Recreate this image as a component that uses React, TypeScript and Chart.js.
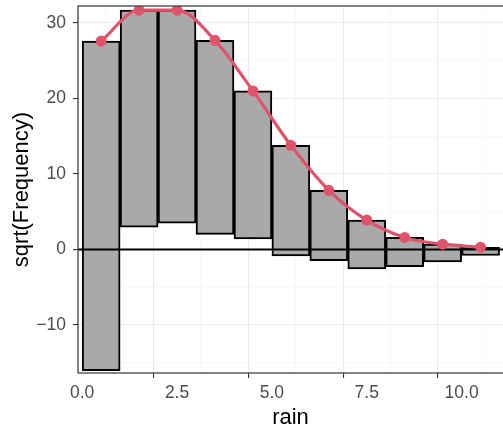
import React, { useEffect, useRef } from 'react';
import { Chart, registerables } from 'chart.js';

Chart.register(...registerables);

// ---- data ----
const binCenters = [0.5, 1.5, 2.5, 3.5, 4.5, 5.5, 6.5, 7.5, 8.5, 9.5, 10.5];
const expectedSqrt = [27.6, 31.7, 31.7, 27.7, 21.0, 13.8, 7.84, 3.9, 1.6, 0.7, 0.3];
const barBottoms = [-16.05, 2.94, 3.47, 2.0, 1.39, -0.86, -1.48, -2.58, -2.27, -1.66, -0.8];
const xMajorTicks = [0, 2.5, 5, 7.5, 10];
const xMinorTicks = [1.25, 3.75, 6.25, 8.75];
const yMajorTicks = [-10, 0, 10, 20, 30];
const yMinorTicks = [-15, -5, 5, 15, 25];
const xRange = [-0.11, 11.09];
const yRange = [-16.36, 32.25];
const xTitle = 'rain';
const yTitle = 'sqrt(Frequency)';

const FONT = "'Liberation Sans', Arial, Helvetica, sans-serif";
const isIn = (arr: number[], v: number) => arr.some((a) => Math.abs(a - v) < 1e-9);

const panelBorder = {
  id: 'panelBorder',
  afterDatasetsDraw(chart: any) {
    const { ctx, chartArea } = chart;
    ctx.save();
    ctx.strokeStyle = '#333333';
    ctx.lineWidth = 1.2;
    ctx.strokeRect(chartArea.left, chartArea.top, chartArea.right - chartArea.left + 3, chartArea.bottom - chartArea.top);
    ctx.restore();
  },
};

export default function App() {
  const ref = useRef<HTMLCanvasElement | null>(null);

  useEffect(() => {
    if (!ref.current) return;
    const bars = binCenters.map((x, i) => ({ x, y: [barBottoms[i], expectedSqrt[i]] }));
    const curve = binCenters.map((x, i) => ({ x, y: expectedSqrt[i] }));
    const zero = [
      { x: xRange[0], y: 0 },
      { x: xRange[1], y: 0 },
    ];
    const chart = new Chart(ref.current, {
      type: 'bar',
      data: {
        datasets: [
          {
            type: 'bar',
            data: bars as any,
            backgroundColor: '#A9A9A9',
            borderColor: '#000000',
            borderWidth: 2,
            borderSkipped: false,
            barPercentage: 1,
            categoryPercentage: 1,
            order: 3,
          } as any,
          {
            type: 'line',
            data: zero as any,
            borderColor: '#000000',
            borderWidth: 2,
            pointRadius: 0,
            order: 2,
          } as any,
          {
            type: 'line',
            data: curve as any,
            borderColor: '#DF536B',
            backgroundColor: '#DF536B',
            borderWidth: 3.2,
            pointRadius: 5.5,
            pointBorderWidth: 0,
            cubicInterpolationMode: 'monotone',
            order: 1,
          } as any,
        ],
      },
      options: {
        animation: false,
        responsive: false,
        devicePixelRatio: 1,
        layout: { autoPadding: false, padding: { top: 6, left: 0, right: 0, bottom: 0 } },
        plugins: { legend: { display: false }, tooltip: { enabled: false } },
        scales: {
          x: {
            type: 'linear',
            min: xRange[0],
            max: xRange[1],
            offset: false,
            afterBuildTicks: (s: any) => {
              s.ticks = [...xMajorTicks, ...xMinorTicks].sort((a, b) => a - b).map((v) => ({ value: v }));
            },
            afterFit: (s: any) => {
              s.height = 54;
              s.paddingLeft = 0;
              s.paddingRight = 0;
            },
            border: { display: false },
            grid: {
              color: (c: any) => (isIn(xMajorTicks, c.tick?.value) ? '#EBEBEB' : '#F3F3F3'),
              lineWidth: (c: any) => (isIn(xMajorTicks, c.tick?.value) ? 1.1 : 0.6),
              tickColor: (c: any) => (isIn(xMajorTicks, c.tick?.value) ? '#333333' : 'rgba(0,0,0,0)'),
              tickLength: 5,
              tickWidth: 1.1,
            },
            ticks: {
              autoSkip: false,
              maxRotation: 0,
              padding: 4.5,
              color: '#4D4D4D',
              font: { family: FONT, size: 17.5 },
              callback: (v: any) => (isIn(xMajorTicks, Number(v)) ? Number(v).toFixed(1) : ''),
            },
            title: {
              display: true,
              text: xTitle,
              color: '#000000',
              font: { family: FONT, size: 22 },
              padding: { top: 0, bottom: -4 },
            },
          },
          y: {
            type: 'linear',
            min: yRange[0],
            max: yRange[1],
            afterBuildTicks: (s: any) => {
              s.ticks = [...yMajorTicks, ...yMinorTicks].sort((a, b) => a - b).map((v) => ({ value: v }));
            },
            afterFit: (s: any) => {
              s.width = 78;
              s.paddingTop = 0;
              s.paddingBottom = 0;
            },
            border: { display: false },
            grid: {
              color: (c: any) => (isIn(yMajorTicks, c.tick?.value) ? '#EBEBEB' : '#F3F3F3'),
              lineWidth: (c: any) => (isIn(yMajorTicks, c.tick?.value) ? 1.1 : 0.6),
              tickColor: (c: any) => (isIn(yMajorTicks, c.tick?.value) ? '#333333' : 'rgba(0,0,0,0)'),
              tickLength: 5,
              tickWidth: 1.1,
            },
            ticks: {
              autoSkip: false,
              padding: 7,
              color: '#4D4D4D',
              font: { family: FONT, size: 17.5 },
              callback: (v: any) => {
                const n = Number(v);
                if (!isIn(yMajorTicks, n)) return '';
                return n < 0 ? '\u2212' + Math.abs(n) : String(n);
              },
            },
            title: {
              display: true,
              text: yTitle,
              color: '#000000',
              font: { family: FONT, size: 22 },
              padding: { top: 8.5, bottom: 0 },
            },
          },
        },
      },
      plugins: [panelBorder],
    } as any);
    return () => chart.destroy();
  }, []);

  return (
    <div style={{ position: 'absolute', left: 0, top: 0, width: 503, height: 427, background: '#FFFFFF' }}>
      <canvas ref={ref} width={503} height={427} style={{ display: 'block', width: 503, height: 427 }} />
    </div>
  );
}
